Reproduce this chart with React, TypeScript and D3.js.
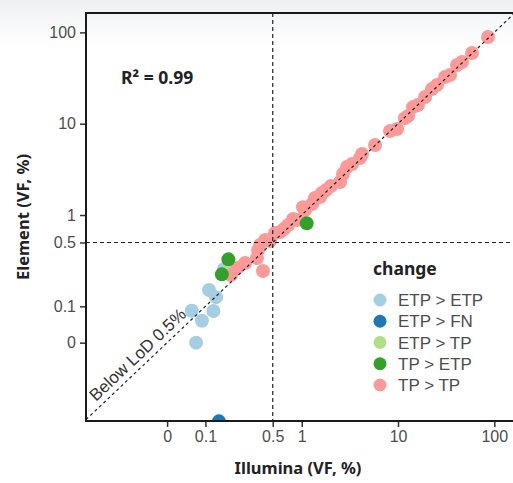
import React, { useEffect, useRef } from 'react';
import * as d3 from 'd3';

// change groups, in legend order
const categories = ['ETP > ETP', 'ETP > FN', 'ETP > TP', 'TP > ETP', 'TP > TP'];
const palette = ['#a6cee3', '#1f78b4', '#b2df8a', '#33a02c', '#fb9a99'];

// VF (%) per variant, Illumina vs Element. 0 is shown at the "0" tick.
const etpEtpIllumina = [0.08, 0.072, 0.092, 0.121, 0.109, 0.129, 0.156];
const etpEtpElement = [0, 0.0895, 0.0695, 0.0889, 0.151, 0.126, 0.256];

const etpFnIllumina = [0.138];
const etpFnElement = [0.0055];

const etpTpIllumina = [0.176];
const etpTpElement = [0.238];

const tpEtpIllumina = [0.173, 0.148, 1.127];
const tpEtpElement = [0.327, 0.224, 0.81];

const tpTpIllumina = [
  0.184, 0.213, 0.258, 0.343, 0.352, 0.369, 0.396, 0.416, 0.469, 0.528, 0.596, 0.655,
  0.721, 0.813, 0.894, 1.03, 1.08, 1.28, 1.37, 1.55, 1.62, 1.79, 2.01, 2.5, 2.68, 2.95,
  3.33, 4.03, 4.23, 5.77, 8.26, 9.77, 11.8, 12.7, 14.3, 16.1, 19.1, 22.5, 25.4, 30.8,
  34.7, 41.0, 46.2, 58.7, 86.0,
];
const tpTpElement = [
  0.22, 0.263, 0.298, 0.338, 0.414, 0.469, 0.244, 0.532, 0.519, 0.635, 0.651, 0.703,
  0.777, 0.904, 0.881, 1.22, 1.13, 1.32, 1.54, 1.57, 1.74, 1.88, 2.08, 2.3, 2.81, 3.36,
  3.62, 4.21, 4.66, 5.84, 8.32, 8.75, 11.5, 12.1, 15.2, 16.0, 19.6, 24.0, 26.5, 32.5,
  34.1, 44.0, 47.4, 59.4, 89.1,
];

const tickValues = [0, 0.1, 0.5, 1, 10, 100];
const lod = 0.5;
const r2Label = 'R² = 0.99';

const ZERO_AT = 0.04;
const W = 513;
const H = 483;

const App: React.FC = () => {
  const svgRef = useRef<SVGSVGElement>(null);

  useEffect(() => {
    if (!svgRef.current) return;
    const svg = d3.select(svgRef.current);
    svg.selectAll('*').remove();

    const left = 86, right = 515, top = 13, bottom = 421;
    const x = d3.scaleLog().domain([0.00575, 164]).range([left, right]);
    const y = d3.scaleLog().domain([0.00555, 163]).range([bottom, top]);
    const fix = (v: number) => (v === 0 ? ZERO_AT : v);

    // faint grey wash at the top of the picture
    const defs = svg.append('defs');
    const grad = defs.append('linearGradient').attr('id', 'topwash')
      .attr('x1', 0).attr('y1', 0).attr('x2', 0).attr('y2', 1);
    grad.append('stop').attr('offset', '0%').attr('stop-color', '#eef0f2');
    grad.append('stop').attr('offset', '100%').attr('stop-color', '#ffffff');
    svg.append('rect').attr('width', W).attr('height', 45).attr('fill', 'url(#topwash)');

    defs.append('clipPath').attr('id', 'panel')
      .append('rect').attr('x', left).attr('y', top)
      .attr('width', right - left).attr('height', bottom - top);

    const groups = [
      { xs: etpEtpIllumina, ys: etpEtpElement, c: 0 },
      { xs: etpTpIllumina, ys: etpTpElement, c: 2 },
      { xs: tpTpIllumina, ys: tpTpElement, c: 4 },
      { xs: tpEtpIllumina, ys: tpEtpElement, c: 3 },
      { xs: etpFnIllumina, ys: etpFnElement, c: 1 },
    ];

    const pts = svg.append('g').attr('clip-path', 'url(#panel)');
    groups.forEach((g) => {
      pts.selectAll(null)
        .data(g.xs.map((v, i) => [v, g.ys[i]]))
        .enter()
        .append('circle')
        .attr('cx', (d) => x(fix(d[0])))
        .attr('cy', (d) => y(fix(d[1])))
        .attr('r', 7)
        .attr('fill', palette[g.c]);
    });

    // reference lines
    const lines = svg.append('g').attr('clip-path', 'url(#panel)')
      .attr('stroke', '#222').attr('stroke-width', 1.2).attr('fill', 'none');
    lines.append('line')
      .attr('x1', x(lod)).attr('x2', x(lod)).attr('y1', top).attr('y2', bottom)
      .attr('stroke-dasharray', '4,3');
    lines.append('line')
      .attr('x1', left).attr('x2', right).attr('y1', y(lod)).attr('y2', y(lod))
      .attr('stroke-dasharray', '4,3');
    lines.append('line')
      .attr('x1', x(0.00575)).attr('y1', y(0.00575))
      .attr('x2', x(164)).attr('y2', y(164))
      .attr('stroke-dasharray', '3,3');

    // panel border (left, top, bottom)
    const border = svg.append('g').attr('stroke', '#1a1a1a').attr('stroke-width', 2);
    border.append('line').attr('x1', left).attr('x2', left).attr('y1', top - 1).attr('y2', bottom + 1);
    border.append('line').attr('x1', left).attr('x2', W).attr('y1', top).attr('y2', top);
    border.append('line').attr('x1', left).attr('x2', W).attr('y1', bottom).attr('y2', bottom);

    const fmt = (v: number) => (v === ZERO_AT ? '0' : String(v));
    const tv = tickValues.map(fix);

    const xAxis = svg.append('g').attr('transform', `translate(0,${bottom + 1})`)
      .call(d3.axisBottom(x).tickValues(tv).tickFormat((d) => fmt(+d)).tickSize(5).tickPadding(4));
    const yAxis = svg.append('g').attr('transform', `translate(${left - 1},0)`)
      .call(d3.axisLeft(y).tickValues(tv).tickFormat((d) => fmt(+d)).tickSize(5).tickPadding(4));
    [xAxis, yAxis].forEach((a) => {
      a.select('.domain').remove();
      a.selectAll('.tick line').attr('stroke', '#333').attr('stroke-width', 1.5);
      a.selectAll('.tick text')
        .attr('fill', '#4d4d4d')
        .style('font-family', '"Liberation Sans", Arial, sans-serif')
        .style('font-size', '16px');
    });

    const titleFont = '"Noto Sans", sans-serif';
    svg.append('text')
      .attr('x', 298).attr('y', 474)
      .attr('text-anchor', 'middle')
      .style('font-family', titleFont).style('font-size', '16.5px').style('font-weight', 'bold')
      .attr('fill', '#222')
      .text('Illumina (VF, %)');
    svg.append('text')
      .attr('transform', `translate(29,${(top + bottom) / 2}) rotate(-90)`)
      .attr('text-anchor', 'middle')
      .style('font-family', titleFont).style('font-size', '16.5px').style('font-weight', 'bold')
      .attr('fill', '#222')
      .text('Element (VF, %)');

    svg.append('text')
      .attr('x', 121).attr('y', 84)
      .style('font-family', titleFont).style('font-size', '17.5px').style('font-weight', 'bold')
      .attr('fill', '#222')
      .text(r2Label);

    const angle = (Math.atan2(y(164) - y(0.00575), x(164) - x(0.00575)) * 180) / Math.PI;
    svg.append('text')
      .attr('transform', `translate(96,402) rotate(${angle})`)
      .style('font-family', '"Liberation Sans", Arial, sans-serif')
      .style('font-size', '17px')
      .attr('fill', '#333')
      .text('Below LoD 0.5%');

    // legend
    const lg = svg.append('g').attr('transform', 'translate(373,0)');
    lg.append('text')
      .attr('x', 0).attr('y', 275)
      .style('font-family', titleFont).style('font-size', '17.5px').style('font-weight', 'bold')
      .attr('fill', '#222')
      .text('change');
    const ly = d3.scalePoint().domain(categories).range([300, 385]);
    categories.forEach((c, i) => {
      lg.append('circle').attr('cx', 7).attr('cy', ly(c)!).attr('r', 6.5).attr('fill', palette[i]);
      lg.append('text')
        .attr('x', 25).attr('y', ly(c)! + 6)
        .style('font-family', '"Liberation Sans", Arial, sans-serif')
        .style('font-size', '17px')
        .attr('fill', '#4d4d4d')
        .text(c);
    });
  }, []);

  return (
    <svg
      ref={svgRef}
      width={W}
      height={H}
      viewBox={`0 0 ${W} ${H}`}
      style={{ position: 'absolute', left: 0, top: 0, background: '#fff' }}
    />
  );
};

export default App;
